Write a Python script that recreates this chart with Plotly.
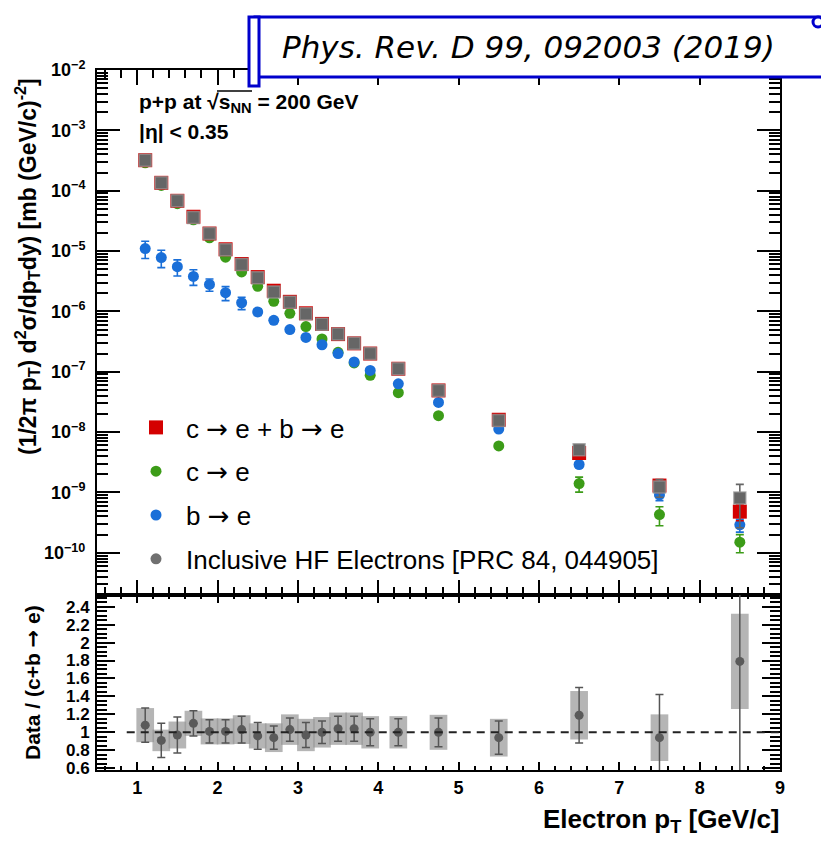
import plotly.graph_objects as go

# Electron pT bin centres [GeV/c]
pt = [1.1, 1.3, 1.5, 1.7, 1.9, 2.1, 2.3, 2.5, 2.7, 2.9, 3.1, 3.3, 3.5, 3.7, 3.9,
      4.25, 4.75, 5.5, 6.5, 7.5, 8.5]

# c->e + b->e  [mb (GeV/c)^-2]
sum_val = [3.2e-4, 1.35e-4, 6.8e-5, 3.7e-5, 1.95e-5, 1.07e-5, 6.1e-6, 3.7e-6, 2.2e-6,
           1.44e-6, 9.3e-7, 6.2e-7, 4.2e-7, 2.95e-7, 2.0e-7, 1.12e-7, 4.9e-8, 1.6e-8,
           4.5e-9, 1.3e-9, 4.8e-10]
sum_err = [1.0e-5, 4.0e-6, 2.0e-6, 1.1e-6, 6.0e-7, 3.2e-7, 1.8e-7, 1.1e-7, 7.0e-8,
           4.5e-8, 3.0e-8, 2.0e-8, 1.4e-8, 1.0e-8, 7.0e-9, 4.0e-9, 2.0e-9, 7.0e-10,
           8.0e-10, 3.0e-10, 1.4e-10]

# c->e
c_val = [2.9e-4, 1.22e-4, 6.1e-5, 3.3e-5, 1.66e-5, 7.9e-6, 4.5e-6, 2.6e-6, 1.47e-6,
         9.3e-7, 5.6e-7, 3.5e-7, 2.1e-7, 1.4e-7, 8.7e-8, 4.5e-8, 1.87e-8, 5.9e-9,
         1.4e-9, 4.3e-10, 1.5e-10]
c_err = [1.0e-5, 4.0e-6, 2.0e-6, 1.1e-6, 6.0e-7, 3.0e-7, 1.6e-7, 9.0e-8, 5.0e-8,
         3.0e-8, 2.0e-8, 1.2e-8, 8.0e-9, 5.0e-9, 3.0e-9, 1.6e-9, 7.0e-10, 3.0e-10,
         3.9e-10, 1.5e-10, 5.0e-11]

# b->e
b_val = [1.1e-5, 7.8e-6, 5.5e-6, 3.8e-6, 2.8e-6, 2.04e-6, 1.39e-6, 9.8e-7, 7.1e-7,
         5.0e-7, 3.7e-7, 2.8e-7, 2.0e-7, 1.45e-7, 1.05e-7, 6.3e-8, 3.1e-8, 1.12e-8,
         2.9e-9, 9.1e-10, 2.9e-10]
b_err = [3.5e-6, 2.5e-6, 1.65e-6, 1.1e-6, 6.4e-7, 5.3e-7, 3.2e-7, 1.2e-7, 7.0e-8,
         4.0e-8, 3.0e-8, 2.2e-8, 1.6e-8, 1.2e-8, 8.0e-9, 5.0e-9, 2.5e-9, 9.0e-10,
         3.0e-10, 1.8e-10, 7.0e-11]

# Inclusive HF electrons [PRC 84, 044905]
incl_val = [3.2e-4, 1.35e-4, 6.8e-5, 3.6e-5, 1.95e-5, 1.05e-5, 6.0e-6, 3.6e-6, 2.1e-6,
            1.42e-6, 9.1e-7, 6.1e-7, 4.2e-7, 2.95e-7, 2.0e-7, 1.12e-7, 4.9e-8, 1.55e-8,
            5.1e-9, 1.23e-9, 8.1e-10]
incl_err = [1.0e-5, 4.0e-6, 2.0e-6, 1.1e-6, 6.0e-7, 3.2e-7, 1.8e-7, 1.1e-7, 7.0e-8,
            4.5e-8, 3.0e-8, 2.0e-8, 1.4e-8, 1.0e-8, 7.0e-9, 4.0e-9, 2.0e-9, 7.0e-10,
            6.0e-10, 4.0e-10, 5.5e-10]

# Data / (c+b -> e) with statistical and systematic uncertainties
ratio = [1.08, 0.91, 0.97, 1.10, 1.01, 1.01, 1.03, 0.96, 0.94, 1.03, 0.97, 1.00, 1.04,
         1.04, 1.00, 1.00, 1.00, 0.94, 1.19, 0.94, 1.79]
ratio_stat = [0.19, 0.19, 0.20, 0.14, 0.13, 0.13, 0.15, 0.15, 0.13, 0.13, 0.14, 0.125,
              0.14, 0.14, 0.15, 0.15, 0.16, 0.185, 0.31, 0.48, 1.25]
ratio_sys = [0.19, 0.12, 0.15, 0.14, 0.145, 0.145, 0.16, 0.14, 0.16, 0.17, 0.18, 0.17,
             0.18, 0.18, 0.18, 0.18, 0.195, 0.21, 0.27, 0.26, 0.53]

decades = [1e-10, 1e-9, 1e-8, 1e-7, 1e-6, 1e-5, 1e-4, 1e-3, 1e-2]
decade_labels = ["10<sup>−10</sup>", "10<sup>−9</sup>", "10<sup>−8</sup>", "10<sup>−7</sup>",
                 "10<sup>−6</sup>", "10<sup>−5</sup>", "10<sup>−4</sup>", "10<sup>−3</sup>",
                 "10<sup>−2</sup>"]
minor_log = [k * 10.0 ** e for e in range(-11, -2) for k in range(2, 10)]

RED = "#d40000"
GREEN = "#3c9c18"
BLUE = "#1a6fd8"
GRAY = "#666666"

W, H = 821, 845
ML, MR, MT, MB = 97, 41, 70, 75
PW, PH = W - ML - MR, H - MT - MB


def px_x(p):
    return (p - ML) / PW


def px_y(p):
    return (H - MB - p) / PH


FONT = "Liberation Sans, Arial, Helvetica, sans-serif"
ARROW = "<span style='font-family:DejaVu Sans'>→</span>"

fig = go.Figure()


def err(arr, color):
    return dict(type="data", array=arr, visible=True, color=color, thickness=1.6, width=4)


fig.add_trace(go.Scatter(x=pt, y=c_val, mode="markers", name=f"c {ARROW} e",
                         marker=dict(symbol="circle", size=11, color=GREEN),
                         error_y=err(c_err, GREEN), legendrank=2, legendgroup="c",
                         xaxis="x", yaxis="y"))
fig.add_trace(go.Scatter(x=pt, y=b_val, mode="markers", name=f"b {ARROW} e",
                         marker=dict(symbol="circle", size=11, color=BLUE),
                         error_y=err(b_err, BLUE), legendrank=3, legendgroup="b",
                         xaxis="x", yaxis="y"))
fig.add_trace(go.Scatter(x=pt, y=sum_val, mode="markers", name=f"c {ARROW} e + b {ARROW} e",
                         marker=dict(symbol="square", size=14, color=RED),
                         error_y=err(sum_err, RED), legendrank=1, legendgroup="s",
                         xaxis="x", yaxis="y"))
fig.add_trace(go.Scatter(x=pt, y=incl_val, mode="markers", showlegend=False,
                         marker=dict(symbol="square", size=12, color=GRAY,
                                     line=dict(color="rgba(150,150,150,0.7)", width=1.5)),
                         error_y=err(incl_err, GRAY), legendgroup="i",
                         xaxis="x", yaxis="y"))
# legend entry for the inclusive measurement
fig.add_trace(go.Scatter(x=[None], y=[None], mode="markers",
                         name="Inclusive HF Electrons [PRC 84, 044905]",
                         marker=dict(symbol="circle", size=11, color="#707070"),
                         legendrank=4, legendgroup="i", xaxis="x", yaxis="y"))

# ratio panel: systematic boxes, then points with statistical bars
fig.add_trace(go.Bar(x=pt, y=[2 * s for s in ratio_sys],
                     base=[r - s for r, s in zip(ratio, ratio_sys)],
                     width=0.22, marker=dict(color="rgba(150,150,150,0.7)", line=dict(width=0)),
                     showlegend=False, xaxis="x2", yaxis="y2"))
fig.add_trace(go.Scatter(x=pt, y=ratio, mode="markers", showlegend=False,
                         marker=dict(symbol="circle", size=9, color="#5a5a5a"),
                         error_y=dict(type="data", array=ratio_stat, visible=True,
                                      color="#555555", thickness=1.5, width=4),
                         xaxis="x2", yaxis="y2"))

axis_common = dict(showline=True, linewidth=2, linecolor="black", mirror="allticks",
                   ticks="inside", tickcolor="black", showgrid=False, zeroline=False,
                   tickwidth=1.5)
tickfont = dict(family=FONT, size=18, color="black", weight="bold")

fig.update_layout(
    width=W, height=H,
    margin=dict(l=ML, r=MR, t=MT, b=MB, pad=0),
    paper_bgcolor="white", plot_bgcolor="white",
    showlegend=True,
    barmode="overlay",
    xaxis=dict(domain=[0, 1], anchor="y", range=[0.5, 9], matches="x2",
               showticklabels=False, tick0=0, dtick=1, ticklen=15,
               minor=dict(ticks="inside", dtick=0.2, ticklen=8, tickcolor="black", tickwidth=1.5),
               **axis_common),
    yaxis=dict(domain=[0.25, 1], anchor="x", type="log", range=[-10.7, -2],
               tickmode="array", tickvals=decades, ticktext=decade_labels,
               ticklen=23, tickfont=tickfont, ticklabelstandoff=6,
               minor=dict(ticks="inside", tickmode="array", tickvals=minor_log,
                          ticklen=11, tickcolor="black", tickwidth=1.5),
               **axis_common),
    xaxis2=dict(domain=[0, 1], anchor="y2", range=[0.5, 9], tick0=0, dtick=1,
                ticklen=8, tickfont=tickfont,
                minor=dict(ticks="inside", dtick=0.2, ticklen=4, tickcolor="black", tickwidth=1.5),
                **axis_common),
    yaxis2=dict(domain=[0, 0.25], anchor="x2", range=[0.58, 2.53], tick0=0.6, dtick=0.2,
                ticklen=18, tickfont=dict(family=FONT, size=17, color="black", weight="bold"),
                ticklabelstandoff=2,
                minor=dict(ticks="inside", dtick=0.05, ticklen=10, tickcolor="black", tickwidth=1.5),
                **axis_common),
    legend=dict(x=px_x(126), y=px_y(404), xanchor="left", yanchor="top",
                font=dict(family=FONT, size=26, color="black"),
                bgcolor="rgba(0,0,0,0)", itemsizing="trace", traceorder="grouped",
                tracegroupgap=7, itemwidth=50),
)

# reference line at unity
fig.add_shape(type="line", xref="x2", yref="y2", x0=0.87, x1=9, y0=1, y1=1,
              line=dict(color="#222222", width=2, dash="8px,6px"), layer="above")

# journal reference banner
fig.add_shape(type="rect", xref="paper", yref="paper",
              x0=px_x(255), x1=px_x(840), y0=px_y(77), y1=px_y(17),
              fillcolor="white", line=dict(color="#0000cc", width=3), layer="above")
fig.add_shape(type="rect", xref="paper", yref="paper",
              x0=px_x(249), x1=px_x(259), y0=px_y(86), y1=px_y(17),
              fillcolor="white", line=dict(color="#0000cc", width=3), layer="above")
fig.add_shape(type="circle", xref="paper", yref="paper",
              x0=px_x(813), x1=px_x(823), y0=px_y(27), y1=px_y(17),
              fillcolor="white", line=dict(color="#0000cc", width=3), layer="above")

# bar over s_NN in the square root
fig.add_shape(type="line", xref="paper", yref="paper",
              x0=px_x(217), x1=px_x(252), y0=px_y(91), y1=px_y(91),
              line=dict(color="black", width=1.5))

annotations = [
    dict(text="<i>Phys. Rev. D 99, 092003 (2019)</i>", x=px_x(280), y=px_y(47),
         xanchor="left", yanchor="middle",
         font=dict(family="DejaVu Sans", size=31, color="black")),
    dict(text="<b>p+p at √s<sub>NN</sub> = 200 GeV</b>", x=px_x(137), y=px_y(103),
         xanchor="left", yanchor="middle", font=dict(family=FONT, size=21, color="black")),
    dict(text="<b>|η| < 0.35</b>", x=px_x(137), y=px_y(131),
         xanchor="left", yanchor="middle", font=dict(family=FONT, size=21, color="black")),
    dict(text="<b>(1/2π p<sub>T</sub>) d<sup>2</sup>σ/dp<sub>T</sub>dy) [mb (GeV/c)<sup>-2</sup>]</b>",
         x=px_x(27), y=px_y(267), xanchor="center", yanchor="middle", textangle=-90,
         font=dict(family=FONT, size=23, color="black")),
    dict(text=f"<b>Data / (c+b {ARROW} e)</b>", x=px_x(33), y=px_y(683),
         xanchor="center", yanchor="middle", textangle=-90,
         font=dict(family=FONT, size=21, color="black")),
    dict(text="<b>Electron p<sub>T</sub> [GeV/c]</b>", x=px_x(782), y=px_y(820),
         xanchor="right", yanchor="middle", font=dict(family=FONT, size=26, color="black")),
]
for a in annotations:
    a.update(xref="paper", yref="paper", showarrow=False)
fig.update_layout(annotations=annotations)

fig.write_html("out.html")
